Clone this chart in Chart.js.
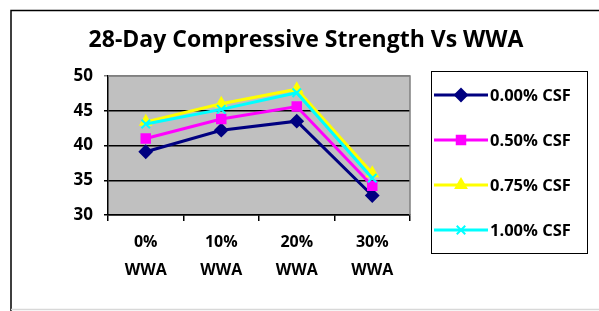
<!DOCTYPE html>
<html>
<head>
<meta charset="utf-8">
<script src="https://cdn.jsdelivr.net/npm/chart.js@4.4.0/dist/chart.umd.min.js"></script>
<style>
  html, body { margin: 0; padding: 0; background: #fff; }
  #wrap { width: 599px; height: 311px; position: relative; }
</style>
</head>
<body>
<div id="wrap"><canvas id="myChart" width="599" height="311"></canvas></div>
<script>
// categories and series
var categories = [['0%', 'WWA'], ['10%', 'WWA'], ['20%', 'WWA'], ['30%', 'WWA']];
var csf000 = [39.1, 42.2, 43.5, 32.8];
var csf050 = [41.0, 43.8, 45.6, 34.2];
var csf075 = [43.4, 46.0, 48.1, 36.0];
var csf100 = [43.1, 45.2, 47.6, 35.3];
var seriesNames = ['0.00% CSF', '0.50% CSF', '0.75% CSF', '1.00% CSF'];
var yTicks = [30, 35, 40, 45, 50];
var titleText = '28-Day Compressive Strength Vs WWA';

var FONT = '"Open Sans"';

// gray plot area, plot border, outer frame, title, legend box
var decorations = {
    id: 'decorations',
    beforeDraw: function (chart) {
        var a = chart.chartArea, c = chart.ctx;
        c.save();
        c.fillStyle = '#fff';
        c.fillRect(0, 0, chart.width, chart.height);
        c.fillStyle = '#c0c0c0';
        c.fillRect(a.left, a.top, a.right - a.left, a.bottom - a.top);
        // outer frame
        c.strokeStyle = '#000';
        c.lineWidth = 1.5;
        c.beginPath();
        c.moveTo(11, chart.height);
        c.lineTo(11, 10.5);
        c.lineTo(chart.width, 10.5);
        c.stroke();
        c.strokeStyle = '#d8d8d8';
        c.beginPath();
        c.moveTo(11, 309.5);
        c.lineTo(chart.width, 309.5);
        c.stroke();
        c.restore();
    },
    beforeDatasetsDraw: function (chart) {
        var a = chart.chartArea, c = chart.ctx;
        c.save();
        c.strokeStyle = '#808080';
        c.lineWidth = 1.5;
        c.beginPath();
        c.moveTo(a.left, a.top);
        c.lineTo(a.right, a.top);
        c.lineTo(a.right, a.bottom);
        c.stroke();
        c.restore();
    },
    afterDraw: function (chart) {
        var c = chart.ctx;
        c.save();
        c.fillStyle = '#000';
        c.font = 'bold 23px ' + FONT;
        c.textAlign = 'center';
        c.textBaseline = 'middle';
        c.fillText(titleText, 306, 40);

        // legend
        c.strokeStyle = '#000';
        c.lineWidth = 1;
        c.strokeRect(431.5, 71.5, 156, 182);
        c.font = 'bold 16.5px ' + FONT;
        c.textAlign = 'left';
        var rows = [95, 140, 185, 230];
        chart.data.datasets.forEach(function (ds, i) {
            var y = rows[i];
            c.strokeStyle = ds.borderColor;
            c.lineWidth = 3;
            c.beginPath();
            c.moveTo(434, y);
            c.lineTo(488, y);
            c.stroke();
            c.fillStyle = ds.pointBackgroundColor;
            c.strokeStyle = ds.pointBorderColor;
            c.lineWidth = 2;
            Chart.helpers.drawPoint(c, {
                pointStyle: ds.pointStyle,
                radius: ds.pointRadius,
                borderWidth: 2,
                rotation: 0
            }, 461, y);
            c.fillStyle = '#000';
            c.fillText(ds.label, 490, y + 1);
        });
        c.restore();
    }
};

function makeSet(label, data, color, style, radius, order) {
    return {
        label: label,
        data: data,
        borderColor: color,
        backgroundColor: color,
        pointBackgroundColor: color,
        pointBorderColor: color,
        pointStyle: style,
        pointRadius: radius,
        pointBorderWidth: 2,
        borderWidth: 3,
        tension: 0,
        order: order
    };
}

var ctx = document.getElementById('myChart').getContext('2d');
var myChart = new Chart(ctx, {
    type: 'line',
    data: {
        labels: categories,
        datasets: [
            makeSet(seriesNames[0], csf000, '#000080', 'rectRot', 6, 3),
            makeSet(seriesNames[1], csf050, '#ff00ff', 'rect', 6, 2),
            makeSet(seriesNames[2], csf075, '#ffff00', 'triangle', 6, 1),
            makeSet(seriesNames[3], csf100, '#00ffff', 'crossRot', 6, 0)
        ]
    },
    options: {
        responsive: false,
        animation: false,
        events: [],
        layout: { padding: { left: 0, top: 76, right: 189, bottom: 0 } },
        plugins: {
            legend: { display: false },
            title: { display: false },
            tooltip: { enabled: false }
        },
        scales: {
            x: {
                offset: true,
                afterFit: function (scale) { scale.height = 96; },
                grid: {
                    offset: true,
                    drawOnChartArea: false,
                    drawTicks: true,
                    tickLength: 6,
                    color: '#000',
                    lineWidth: 1.5
                },
                border: { color: '#000', width: 1.5 },
                ticks: {
                    color: '#000',
                    padding: 7,
                    font: { family: FONT, size: 16, weight: 'bold', lineHeight: 1.75 },
                    maxRotation: 0
                }
            },
            y: {
                min: 30,
                max: 50,
                afterFit: function (scale) { scale.width = 108; },
                afterBuildTicks: function (scale) {
                    scale.ticks = yTicks.map(function (v) { return { value: v }; });
                },
                grid: {
                    color: function (c) { return c.tick.value === 50 ? '#808080' : '#000'; },
                    lineWidth: 1.5,
                    tickLength: 4,
                    drawTicks: true
                },
                border: { color: '#000', width: 1.5 },
                ticks: {
                    color: '#000',
                    padding: 11,
                    font: { family: FONT, size: 17, weight: 'bold' }
                }
            }
        }
    },
    plugins: [decorations]
});
</script>
</body>
</html>
